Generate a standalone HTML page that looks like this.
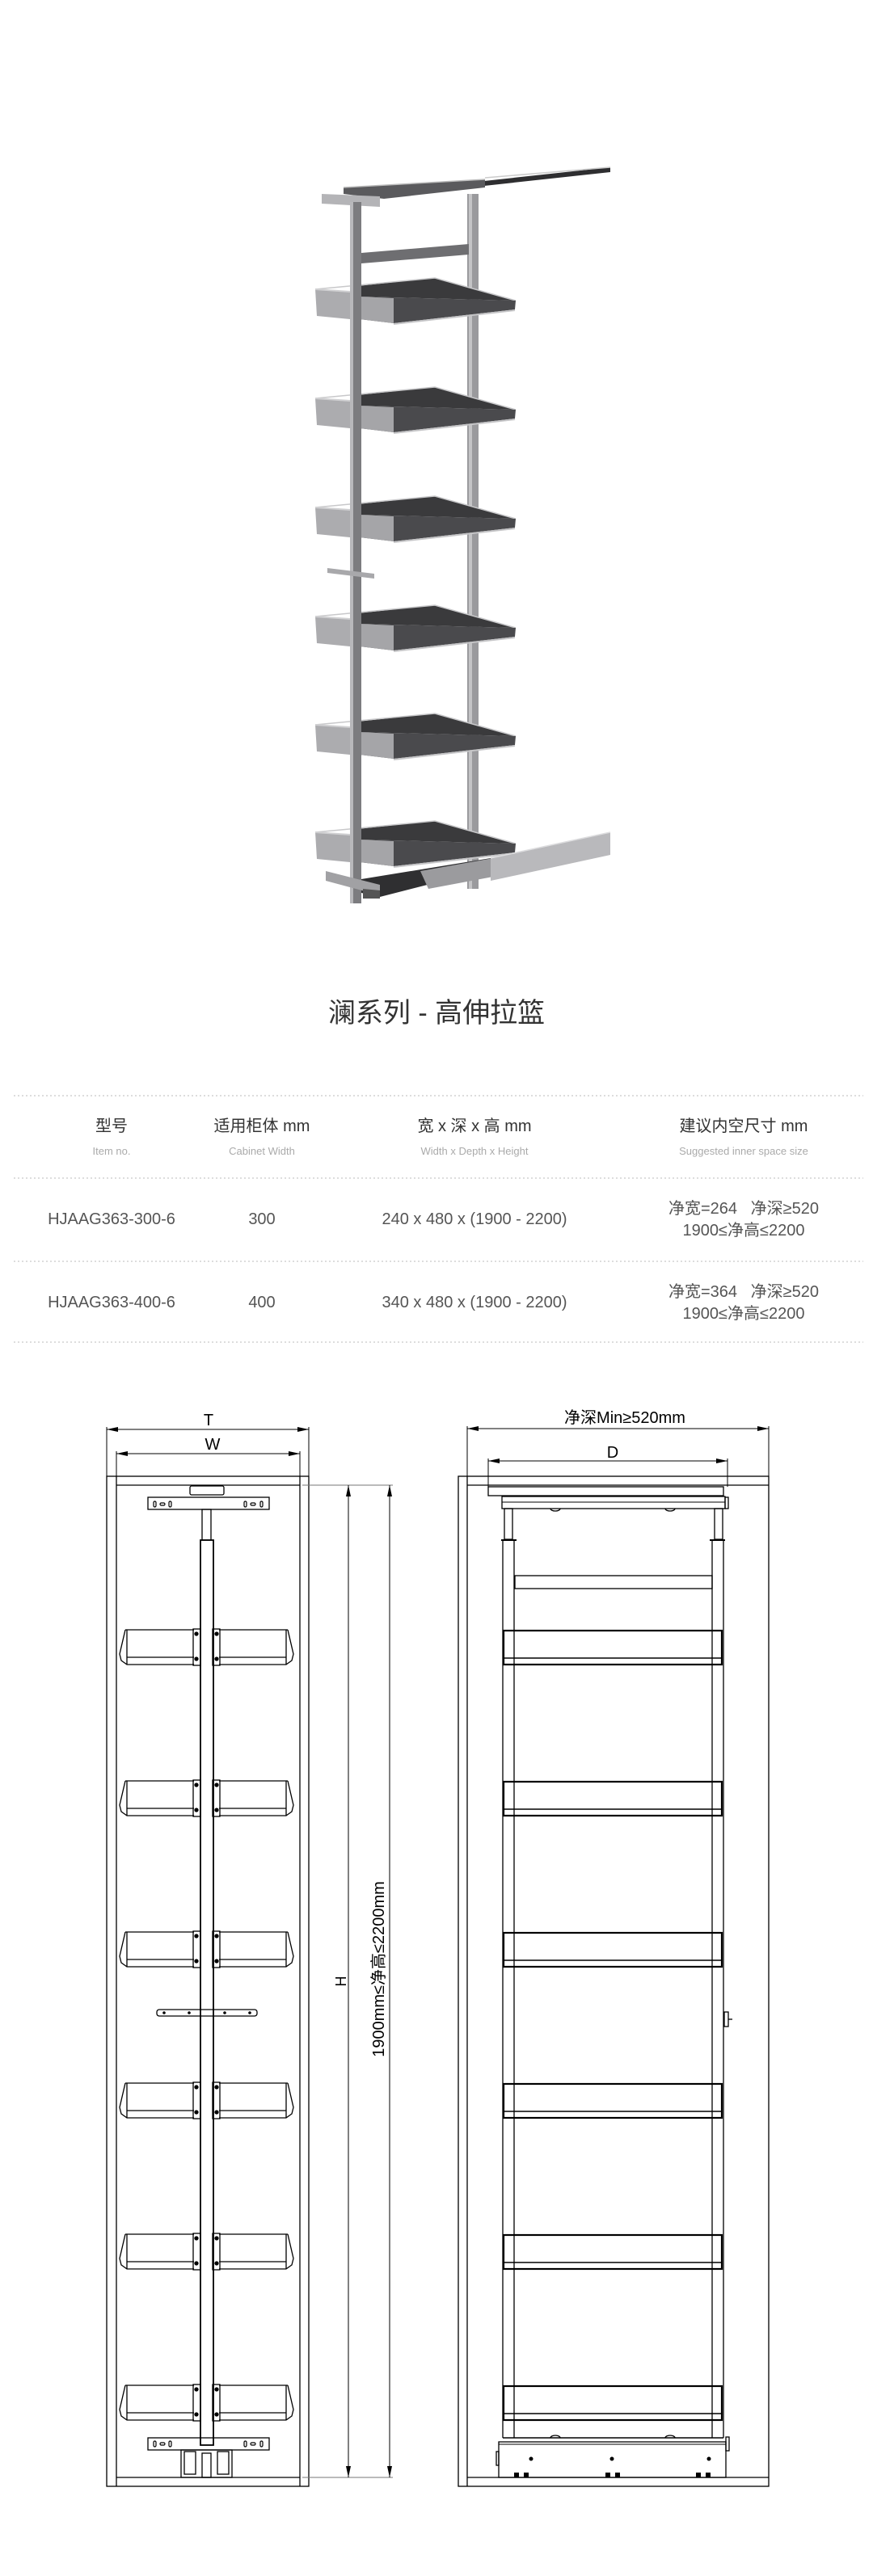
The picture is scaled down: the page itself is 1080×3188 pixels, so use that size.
<!DOCTYPE html>
<html><head><meta charset="utf-8"><style>
html,body{margin:0;padding:0;background:#fff;}
svg{display:block;}
text{font-family:"Liberation Sans","Noto Sans CJK SC",sans-serif;}
</style></head><body>
<svg width="1080" height="3188" viewBox="0 0 1080 3188" xmlns="http://www.w3.org/2000/svg">
<defs>
<g id="pb">
  <polygon points="433,-3 538,-14 638,14 445,9" fill="#3a3a3c"/>
  <polyline points="390,0 538,-14 638,14" fill="none" stroke="#c8c8ca" stroke-width="1.5"/>
  <polygon points="445,9 638,14 637,25 487,42 445,37" fill="#4a4a4d"/>
  <polygon points="445,9 487,11 487,42 445,37" fill="#a5a5a8"/>
  <line x1="487" y1="43" x2="637" y2="26" stroke="#c5c5c7" stroke-width="2"/>
  <polygon points="390,0 433,3 433,37 392,33" fill="#acacaf"/>
  <line x1="390" y1="0" x2="433" y2="3" stroke="#d0d0d2" stroke-width="2"/>
</g>
<g id="lb" fill="none" stroke="#000" stroke-width="1.3">
  <path d="M155,0 L240,0 M155,0 L148,30 L150,38 L157,43 L240,43 M157,34 L240,34 M157,0 L157,43"/>
  <rect x="239" y="-1" width="9" height="45"/>
  <circle cx="243" cy="5" r="2" fill="#000"/>
  <circle cx="243" cy="36" r="2" fill="#000"/>
</g>
<g id="rs" fill="none" stroke="#000">
  <rect x="623" y="0" width="270" height="42" stroke-width="2.2"/>
  <line x1="623" y1="34" x2="893" y2="34" stroke-width="1.5"/>
</g>
</defs>

<!-- PRODUCT IMAGE -->
<g>
  <rect x="578" y="240" width="14" height="860" fill="#9a9a9d"/>
  <rect x="580" y="240" width="4" height="860" fill="#c4c4c6"/>
  <polygon points="470,238 755,207 755,213 470,244" fill="#2e2e30"/>
  <polygon points="425,232 600,222 600,232 475,246 425,240" fill="#5a5a5d"/>
  <line x1="425" y1="232" x2="600" y2="222" stroke="#bbb" stroke-width="1.5"/>
  <line x1="600" y1="220" x2="755" y2="207" stroke="#ccc" stroke-width="1.5"/>
  <polygon points="398,240 470,243 470,256 398,252" fill="#b4b4b7"/>
  <polygon points="447,313 580,302 580,315 447,326" fill="#6e6e71"/>
  <use href="#pb" transform="translate(0,358)"/>
  <use href="#pb" transform="translate(0,493)"/>
  <use href="#pb" transform="translate(0,628)"/>
  <use href="#pb" transform="translate(0,763)"/>
  <use href="#pb" transform="translate(0,897)"/>
  <use href="#pb" transform="translate(0,1030)"/>
  <rect x="433" y="250" width="14" height="868" fill="#7c7c7f"/>
  <rect x="433" y="250" width="4" height="868" fill="#b8b8bb"/>
  <polygon points="405,703 463,710 463,716 405,709" fill="#a8a8ab"/>
  <polygon points="447,1088 607,1062 607,1075 470,1110 447,1105" fill="#2f2f31"/>
  <polygon points="520,1078 610,1062 610,1085 530,1100" fill="#9b9b9e"/>
  <polygon points="607,1062 755,1030 755,1058 607,1090" fill="#b9b9bc"/>
  <line x1="607" y1="1062" x2="755" y2="1030" stroke="#dcdcde" stroke-width="1.5"/>
  <polygon points="403,1078 470,1095 470,1108 403,1090" fill="#a1a1a4"/>
  <polygon points="449,1100 470,1102 470,1112 449,1112" fill="#555"/>
</g>

<text x="540" y="1265" text-anchor="middle" font-size="34" fill="#333">澜系列 - 高伸拉篮</text>

<g stroke="#bbb" stroke-width="1" stroke-dasharray="2,3">
  <line x1="17" y1="1356" x2="1068" y2="1356"/>
  <line x1="17" y1="1458" x2="1068" y2="1458"/>
  <line x1="17" y1="1561" x2="1068" y2="1561"/>
  <line x1="17" y1="1661" x2="1068" y2="1661"/>
</g>
<g text-anchor="middle" font-size="20" fill="#333">
  <text x="138" y="1400">型号</text>
  <text x="324" y="1400">适用柜体 mm</text>
  <text x="587" y="1400">宽 x 深 x 高 mm</text>
  <text x="920" y="1400">建议内空尺寸 mm</text>
</g>
<g text-anchor="middle" font-size="13" fill="#aaa">
  <text x="138" y="1429">Item no.</text>
  <text x="324" y="1429">Cabinet Width</text>
  <text x="587" y="1429">Width x Depth x Height</text>
  <text x="920" y="1429">Suggested inner space size</text>
</g>
<g text-anchor="middle" font-size="20" fill="#555">
  <text x="138" y="1515">HJAAG363-300-6</text>
  <text x="324" y="1515">300</text>
  <text x="587" y="1515">240 x 480 x (1900 - 2200)</text>
  <text x="920" y="1502">净宽=264&#160;&#160;&#160;净深≥520</text>
  <text x="920" y="1529">1900≤净高≤2200</text>
  <text x="138" y="1618">HJAAG363-400-6</text>
  <text x="324" y="1618">400</text>
  <text x="587" y="1618">340 x 480 x (1900 - 2200)</text>
  <text x="920" y="1605">净宽=364&#160;&#160;&#160;净深≥520</text>
  <text x="920" y="1632">1900≤净高≤2200</text>
</g>

<!-- LEFT DRAWING -->
<g fill="none" stroke="#000" stroke-width="1.3">
  <rect x="132" y="1827" width="250" height="1250"/>
  <line x1="144" y1="1827" x2="144" y2="3077"/>
  <line x1="371" y1="1827" x2="371" y2="3077"/>
  <line x1="144" y1="1838" x2="371" y2="1838"/>
  <line x1="144" y1="3066" x2="371" y2="3066"/>
  <line x1="132" y1="1766" x2="132" y2="1827" stroke-width="1"/>
  <line x1="382" y1="1766" x2="382" y2="1827" stroke-width="1"/>
  <line x1="144" y1="1796" x2="144" y2="1827" stroke-width="1"/>
  <line x1="371" y1="1796" x2="371" y2="1827" stroke-width="1"/>
  <line x1="132" y1="1769" x2="382" y2="1769" stroke-width="1"/>
  <line x1="144" y1="1799" x2="371" y2="1799" stroke-width="1"/>
  <line x1="374" y1="1838" x2="486" y2="1838" stroke="#777" stroke-width="1"/>
  <line x1="374" y1="3066" x2="486" y2="3066" stroke="#777" stroke-width="1"/>
  <line x1="431" y1="1838" x2="431" y2="3066" stroke-width="1"/>
  <line x1="482" y1="1838" x2="482" y2="3066" stroke-width="1"/>
  <rect x="235" y="1839" width="42" height="11" rx="2"/>
  <rect x="183" y="1853" width="150" height="15"/>
  <rect x="250" y="1868" width="11" height="38"/>
  <rect x="248" y="1906" width="16" height="1120" stroke-width="1.8"/>
  <rect x="194" y="2487" width="124" height="8" rx="3"/>
  <rect x="183" y="3017" width="150" height="15"/>
  <rect x="224" y="3032" width="63" height="34"/>
  <rect x="228" y="3034" width="14" height="28"/>
  <rect x="269" y="3034" width="14" height="28"/>
  <rect x="250" y="3036" width="11" height="30"/>
</g>
<g fill="none" stroke="#000" stroke-width="1.2">
  <rect x="190" y="1858" width="3" height="7" rx="1.5"/><rect x="198" y="1860" width="6" height="3" rx="1.5"/><rect x="209" y="1858" width="3" height="7" rx="1.5"/>
  <rect x="302" y="1858" width="3" height="7" rx="1.5"/><rect x="310" y="1860" width="6" height="3" rx="1.5"/><rect x="322" y="1858" width="3" height="7" rx="1.5"/>
  <rect x="190" y="3021" width="3" height="7" rx="1.5"/><rect x="198" y="3023" width="6" height="3" rx="1.5"/><rect x="209" y="3021" width="3" height="7" rx="1.5"/>
  <rect x="302" y="3021" width="3" height="7" rx="1.5"/><rect x="310" y="3023" width="6" height="3" rx="1.5"/><rect x="322" y="3021" width="3" height="7" rx="1.5"/>
</g>
<g fill="#000">
  <circle cx="203" cy="2491" r="1.8"/><circle cx="234" cy="2491" r="1.8"/>
  <circle cx="278" cy="2491" r="1.8"/><circle cx="309" cy="2491" r="1.8"/>
  <polygon points="132,1769 146,1766 146,1772"/>
  <polygon points="382,1769 368,1766 368,1772"/>
  <polygon points="144,1799 158,1796 158,1802"/>
  <polygon points="371,1799 357,1796 357,1802"/>
  <polygon points="431,1838 428,1852 434,1852"/>
  <polygon points="431,3066 428,3052 434,3052"/>
  <polygon points="482,1838 479,1852 485,1852"/>
  <polygon points="482,3066 479,3052 485,3052"/>
</g>
<g>
  <use href="#lb" transform="translate(0,2017)"/>
  <use href="#lb" transform="translate(511,2017) scale(-1,1)"/>
  <use href="#lb" transform="translate(0,2204)"/>
  <use href="#lb" transform="translate(511,2204) scale(-1,1)"/>
  <use href="#lb" transform="translate(0,2391)"/>
  <use href="#lb" transform="translate(511,2391) scale(-1,1)"/>
  <use href="#lb" transform="translate(0,2578)"/>
  <use href="#lb" transform="translate(511,2578) scale(-1,1)"/>
  <use href="#lb" transform="translate(0,2765)"/>
  <use href="#lb" transform="translate(511,2765) scale(-1,1)"/>
  <use href="#lb" transform="translate(0,2952)"/>
  <use href="#lb" transform="translate(511,2952) scale(-1,1)"/>
</g>
<g font-size="20" fill="#000" text-anchor="middle">
  <text x="258" y="1764">T</text>
  <text x="263" y="1794">W</text>
  <text x="0" y="0" transform="translate(428,2452) rotate(-90)" font-size="18">H</text>
  <text x="0" y="0" transform="translate(475,2437) rotate(-90)" font-size="20">1900mm≤净高≤2200mm</text>
  <text x="773" y="1761">净深Min≥520mm</text>
  <text x="758" y="1804">D</text>
</g>

<!-- RIGHT DRAWING -->
<g fill="none" stroke="#000" stroke-width="1.3">
  <rect x="567" y="1827" width="384" height="1250"/>
  <line x1="578" y1="1827" x2="578" y2="3077"/>
  <line x1="578" y1="1838" x2="951" y2="1838"/>
  <line x1="578" y1="3066" x2="951" y2="3066"/>
  <line x1="578" y1="1765" x2="578" y2="1827" stroke-width="1"/>
  <line x1="951" y1="1765" x2="951" y2="1827" stroke-width="1"/>
  <line x1="578" y1="1768" x2="951" y2="1768" stroke-width="1"/>
  <line x1="604" y1="1805" x2="604" y2="1840" stroke-width="1"/>
  <line x1="900" y1="1805" x2="900" y2="1840" stroke-width="1"/>
  <line x1="604" y1="1808" x2="900" y2="1808" stroke-width="1"/>
  <rect x="604" y="1840" width="291" height="11"/>
  <rect x="621" y="1852" width="276" height="15"/>
  <line x1="621" y1="1859" x2="897" y2="1859" stroke-width="1"/>
  <rect x="897" y="1853" width="4" height="14"/>
  <rect x="624" y="1867" width="10" height="38"/>
  <rect x="884" y="1867" width="10" height="38"/>
  <line x1="622" y1="1905" x2="622" y2="3017"/>
  <line x1="636" y1="1905" x2="636" y2="3017"/>
  <line x1="881" y1="1905" x2="881" y2="3017"/>
  <line x1="895" y1="1905" x2="895" y2="3017"/>
  <line x1="620" y1="1906" x2="639" y2="1906" stroke-width="2"/>
  <line x1="878" y1="1906" x2="897" y2="1906" stroke-width="2"/>
  <rect x="637" y="1950" width="244" height="16"/>
  <line x1="622" y1="3017" x2="895" y2="3017" stroke-width="1.5"/>
  <rect x="617" y="3022" width="281" height="44"/>
  <line x1="617" y1="3025" x2="898" y2="3025" stroke-width="1"/>
  <rect x="898" y="3016" width="4" height="17"/>
  <rect x="614" y="3034" width="3" height="17"/>
  <path d="M681,3017 a6,3 0 0 1 12,0 M823,3017 a6,3 0 0 1 12,0"/>
  <path d="M681,1867 a6,3 0 0 0 12,0 M823,1867 a6,3 0 0 0 12,0"/>
  <rect x="896" y="2490" width="5" height="18"/>
  <line x1="901" y1="2499" x2="906" y2="2499"/>
</g>
<g fill="#000">
  <polygon points="578,1768 592,1765 592,1771"/>
  <polygon points="951,1768 937,1765 937,1771"/>
  <polygon points="604,1808 618,1805 618,1811"/>
  <polygon points="900,1808 886,1805 886,1811"/>
  <circle cx="657" cy="3043" r="2.5"/><circle cx="757" cy="3043" r="2.5"/><circle cx="877" cy="3043" r="2.5"/>
  <rect x="636" y="3060" width="6" height="6"/><rect x="648" y="3060" width="6" height="6"/>
  <rect x="749" y="3060" width="6" height="6"/><rect x="761" y="3060" width="6" height="6"/>
  <rect x="861" y="3060" width="6" height="6"/><rect x="873" y="3060" width="6" height="6"/>
</g>
<g>
  <use href="#rs" transform="translate(0,2018)"/>
  <use href="#rs" transform="translate(0,2205)"/>
  <use href="#rs" transform="translate(0,2392)"/>
  <use href="#rs" transform="translate(0,2579)"/>
  <use href="#rs" transform="translate(0,2766)"/>
  <use href="#rs" transform="translate(0,2953)"/>
</g>
</svg>
</body></html>
